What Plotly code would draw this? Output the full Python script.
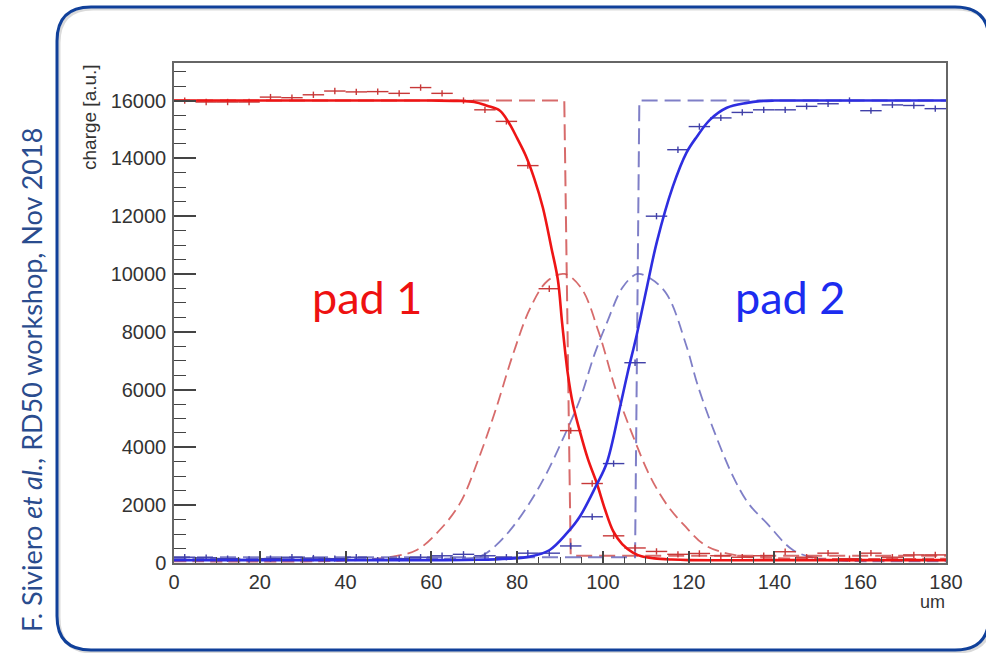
import plotly.graph_objects as go

# ---------------- data ----------------
bin_centers = [2.5 + 5 * i for i in range(36)]
bin_half_width = 2.5

red_points = [16000, 15950, 15950, 15950, 16120, 16100, 16200, 16330, 16300, 16310,
              16250, 16450, 16250, 16000, 15680, 15280, 13750, 9490, 4580, 2750,
              940, 520, 400, 300, 330, 250, 200, 250, 390, 200,
              340, 150, 340, 200, 280, 280]
blue_points = [200, 180, 150, 120, 150, 200, 170, 150, 200, 100,
               150, 200, 250, 300, 250, 200, 340, 340, 590, 1600,
               3440, 6930, 12000, 14300, 15100, 15400, 15590, 15680, 15680, 15800,
               15890, 16000, 15650, 15850, 15830, 15720]

red_fit_x = [0, 20, 40, 60, 66, 70, 73, 76, 78, 80, 82, 84, 86, 88, 89.5, 90.5, 91.8,
             93, 94.6, 96.5, 98.6, 100.5, 102.4, 104.5, 107, 109, 112, 116, 120, 140, 160, 180]
red_fit_y = [16000, 16000, 16000, 16000, 15990, 15950, 15820, 15650, 15250, 14700, 14100,
             13300, 12300, 10900, 9800, 8300, 6570, 5500, 4570, 3600, 2750, 1850, 1100,
             650, 360, 230, 160, 120, 100, 100, 100, 100]

blue_fit_x = [0, 40, 60, 71, 78, 83, 87.6, 91.6, 94.6, 98.5, 100.9, 104, 105.8, 107.9,
              110.2, 112.6, 116.3, 119.5, 121.9, 125, 128.9, 133.6, 136.6, 140, 160, 180]
blue_fit_y = [100, 100, 100, 110, 150, 220, 450, 1030, 1600, 2700, 3460, 5400, 6600, 7900,
              9500, 11120, 13020, 14200, 14750, 15340, 15750, 15920, 15980, 16000, 16000, 16000]

red_gauss_x = [0, 40, 50, 56.6, 62, 66.7, 71, 75, 79, 83, 87, 91, 95, 99, 103, 107, 111,
               115, 119, 124, 130, 136, 150, 180]
red_gauss_y = [60, 80, 200, 450, 1150, 2070, 3600, 5300, 7200, 8800, 9750, 10000, 9500,
               8000, 6000, 4400, 3000, 2000, 1300, 600, 300, 200, 150, 150]

blue_gauss_x = [0, 50, 65, 71.3, 75, 79, 83, 86.9, 91, 94.6, 98, 100.9, 104.7, 108, 111,
                114.9, 119.5, 122, 125.7, 130.4, 134, 138.2, 144.3, 150, 155, 180]
blue_gauss_y = [150, 150, 160, 220, 600, 1250, 2100, 3110, 4400, 5640, 7200, 8300, 9560,
                10000, 9850, 9300, 7500, 6200, 4650, 2980, 2050, 1380, 450, 150, 80, 60]

red_step_x = [0, 91, 92.5, 180]
red_step_y = [16000, 16000, 250, 250]
blue_step_x = [0, 107.5, 108.5, 180]
blue_step_y = [200, 200, 16000, 16000]

x_range = [0, 180]
y_range = [0, 17300]
x_ticks = [0, 20, 40, 60, 80, 100, 120, 140, 160, 180]
y_ticks = [0, 2000, 4000, 6000, 8000, 10000, 12000, 14000, 16000]
y_tick_labels = [str(v) for v in y_ticks]
x_tick_labels = [str(v) for v in x_ticks]

# ---------------- styling ----------------
RED = "#ee1515"
RED_DASH = "rgba(205,70,70,0.8)"
RED_PT = "#c83838"
BLUE = "#2e2ee0"
BLUE_DASH = "rgba(95,95,185,0.8)"
BLUE_PT = "#4040a8"

fig = go.Figure()

fig.add_trace(go.Scatter(x=red_gauss_x, y=red_gauss_y, mode="lines", line_shape="spline",
                         line=dict(color=RED_DASH, width=1.8, dash="12px,6px")))
fig.add_trace(go.Scatter(x=blue_gauss_x, y=blue_gauss_y, mode="lines", line_shape="spline",
                         line=dict(color=BLUE_DASH, width=1.8, dash="12px,6px")))
fig.add_trace(go.Scatter(x=red_step_x, y=red_step_y, mode="lines",
                         line=dict(color=RED_DASH, width=2, dash="16px,7px")))
fig.add_trace(go.Scatter(x=blue_step_x, y=blue_step_y, mode="lines",
                         line=dict(color=BLUE_DASH, width=2, dash="16px,7px")))
for vals, col in ((red_points, RED_PT), (blue_points, BLUE_PT)):
    fig.add_trace(go.Scatter(
        x=bin_centers, y=vals, mode="markers",
        marker=dict(size=1, color=col),
        error_x=dict(type="constant", value=bin_half_width, color=col, thickness=1.4, width=0),
        error_y=dict(type="constant", value=110, color=col, thickness=1.4, width=0)))
fig.add_trace(go.Scatter(x=red_fit_x, y=red_fit_y, mode="lines", line_shape="spline",
                         line=dict(color=RED, width=2.6)))
fig.add_trace(go.Scatter(x=blue_fit_x, y=blue_fit_y, mode="lines", line_shape="spline",
                         line=dict(color=BLUE, width=2.6)))

# ---------------- layout ----------------
L, R, T, B = 174, 946, 63, 563
W, H = 986, 653


def X(px):
    return (px - L) / (R - L)


def Y(py):
    return (B - py) / (B - T)


def rounded_path(x0, y0, x1, y1, r):
    pts = [
        ("M", (x0 + r, y0)), ("L", (x1 - r, y0)), ("Q", (x1, y0), (x1, y0 + r)),
        ("L", (x1, y1 - r)), ("Q", (x1, y1), (x1 - r, y1)), ("L", (x0 + r, y1)),
        ("Q", (x0, y1), (x0, y1 - r)), ("L", (x0, y0 + r)), ("Q", (x0, y0), (x0 + r, y0)),
    ]
    s = ""
    for p in pts:
        s += p[0] + " " + " ".join(f"{X(a):.5f},{Y(b):.5f}" for a, b in p[1:]) + " "
    return s + "Z"


TICKFONT = dict(family="Liberation Sans, Arial, sans-serif", size=20, color="#333333")
axis_common = dict(showgrid=False, zeroline=False, showline=True, linecolor="#666666",
                   linewidth=1.5, mirror=True, ticks="inside", tickcolor="#444444",
                   tickwidth=1.5, tickfont=TICKFONT)

fig.update_layout(
    width=W, height=H, showlegend=False,
    paper_bgcolor="white", plot_bgcolor="white",
    margin=dict(l=L, r=W - R, t=T, b=H - B),
    xaxis=dict(range=x_range, tickvals=x_ticks, ticktext=x_tick_labels, ticklen=12,
               minor=dict(ticks="inside", dtick=5, ticklen=6, tickcolor="#444444", tickwidth=1.2),
               **axis_common),
    yaxis=dict(range=y_range, tickvals=y_ticks, ticktext=y_tick_labels, ticklen=22,
               ticklabelstandoff=2,
               minor=dict(ticks="inside", dtick=500, ticklen=12, tickcolor="#444444", tickwidth=1.2),
               **axis_common),
    shapes=[
        dict(type="path", xref="paper", yref="paper", path=rounded_path(59, 9, 991, 652, 34),
             line=dict(color="rgba(150,150,150,0.35)", width=3), layer="below"),
        dict(type="path", xref="paper", yref="paper", path=rounded_path(57, 7, 989, 650, 34),
             line=dict(color="#10409a", width=3), layer="above"),
    ],
    annotations=[
        dict(text="pad 1", xref="paper", yref="paper", x=X(367), y=Y(297),
             xanchor="center", yanchor="middle", showarrow=False,
             font=dict(family="Lato, Open Sans, sans-serif", size=45, color="#ee1111")),
        dict(text="pad 2", xref="paper", yref="paper", x=X(790), y=Y(297),
             xanchor="center", yanchor="middle", showarrow=False,
             font=dict(family="Lato, Open Sans, sans-serif", size=45, color="#1c2cf0")),
        dict(text="charge [a.u.]", xref="paper", yref="paper", x=X(89), y=Y(62),
             xanchor="center", yanchor="top", textangle=-90, showarrow=False,
             font=dict(family="Liberation Sans, Arial, sans-serif", size=19, color="#333333")),
        dict(text="um", xref="paper", yref="paper", x=X(947), y=Y(590), xanchor="right",
             yanchor="top", showarrow=False,
             font=dict(family="Liberation Sans, Arial, sans-serif", size=18, color="#333333")),
        dict(text="F. Siviero <i>et al.</i>, RD50 workshop, Nov 2018", xref="paper",
             yref="paper", x=X(31), y=Y(380), xanchor="center", yanchor="middle",
             textangle=-90, showarrow=False,
             font=dict(family="Lato, Open Sans, sans-serif", size=27, color="#2a4c8e")),
    ],
)

fig.write_html("out.html", config={"displayModeBar": False},
               post_script="document.body.style.margin='0px';")
